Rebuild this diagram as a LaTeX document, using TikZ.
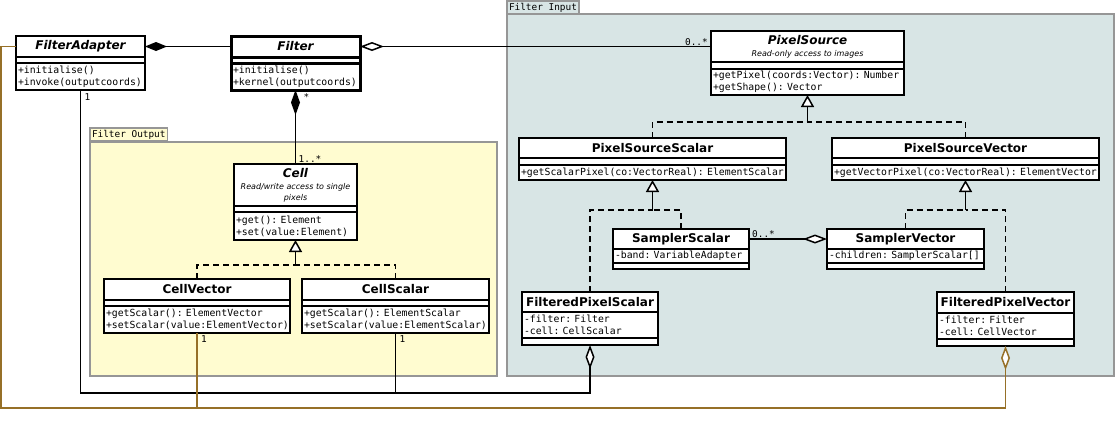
\documentclass[tikz,border=0pt]{standalone}
\usepackage{fontspec}
\setmainfont{DejaVu Sans}
\setmonofont{DejaVu Sans Mono}
\usetikzlibrary{positioning,arrows.meta}
\definecolor{inputfill}{RGB}{216,229,229}
\definecolor{outputfill}{RGB}{255,252,208}
\definecolor{pkgline}{RGB}{150,150,150}
\definecolor{linkbrown}{RGB}{150,112,40}
\newcommand{\notefont}{\fontsize{8}{9.5}\selectfont\mdseries\itshape}
\tikzset{
  pkgbody/.style={draw=pkgline, line width=1.2pt, anchor=north west, inner sep=0pt, outer sep=0pt},
  pkgtab/.style={draw=pkgline, line width=1.2pt, anchor=north west, inner xsep=2pt, inner ysep=0pt,
    minimum height=13pt, outer sep=0pt, font=\fontsize{9.4}{11}\selectfont\ttfamily},
  ctitle/.style={draw, fill=white, line width=1.7pt, outer sep=0pt, inner sep=1pt, anchor=north west,
    align=center, font=\fontsize{12}{14}\selectfont\bfseries},
  ccomp/.style={draw, fill=white, line width=1.7pt, outer sep=0pt, inner xsep=2pt, inner ysep=1pt,
    align=left, font=\fontsize{9.8}{12}\selectfont\ttfamily},
  mult/.style={inner sep=1pt, font=\fontsize{9.4}{11}\selectfont\ttfamily},
  link/.style={line width=1.5pt},
  compo/.style={link, {Diamond[length=22pt, width=9pt]}-},
  aggr/.style={link, {Diamond[length=24pt, width=9pt, fill=white]}-},
  realize/.style={link, dash pattern=on 6pt off 4pt},
  realtip/.style={link, -{Triangle[length=12pt, width=13pt, fill=white]}},
}
\begin{document}
\begin{tikzpicture}[x=1pt, y=-1pt]
\useasboundingbox (0,0) rectangle (1116,421);

\node[pkgbody, fill=inputfill, minimum width=607pt, minimum height=362pt] (inbox) at (507,14) {};
\node[pkgtab, fill=inputfill] (intab) at (507,1) {Filter Input};
\node[pkgbody, fill=outputfill, minimum width=407pt, minimum height=234pt] (outbox) at (90,142) {};
\node[pkgtab, fill=outputfill] (outtab) at (90,128) {Filter Output};

\node[ctitle, minimum width=129pt, minimum height=21pt] (fa) at (16,36) {\itshape FilterAdapter};
\node[ccomp, minimum width=129pt, minimum height=6pt, below=0pt of fa] (faa) {};
\node[ccomp, text width=125pt, minimum height=27pt, below=0pt of faa] (fam) {+initialise()\\+invoke(outputcoords)};

\node[ctitle, line width=3pt, minimum width=129pt, minimum height=21pt] (f) at (231,36) {\itshape Filter};
\node[ccomp, line width=3pt, minimum width=129pt, minimum height=6pt, below=0pt of f] (fa2) {};
\node[ccomp, line width=3pt, text width=125pt, minimum height=27pt, below=0pt of fa2] (fm) {+initialise()\\+kernel(outputcoords)};

\node[ctitle, minimum width=193pt, minimum height=31pt] (ps) at (711,31) {\itshape PixelSource\\[-2pt]\notefont Read-only access to images};
\node[ccomp, minimum width=193pt, minimum height=7pt, below=0pt of ps] (psa) {};
\node[ccomp, text width=189pt, minimum height=26pt, below=0pt of psa] (psm) {+getPixel(coords:Vector):~Number\\+getShape():~Vector};

\node[ctitle, minimum width=267pt, minimum height=20pt] (pss) at (519,138) {PixelSourceScalar};
\node[ccomp, minimum width=267pt, minimum height=7pt, below=0pt of pss] (pssa) {};
\node[ccomp, text width=263pt, minimum height=15pt, below=0pt of pssa] (pssm) {+getScalarPixel(co:VectorReal):~ElementScalar};

\node[ctitle, minimum width=267pt, minimum height=20pt] (psv) at (832,138) {PixelSourceVector};
\node[ccomp, minimum width=267pt, minimum height=7pt, below=0pt of psv] (psva) {};
\node[ccomp, text width=263pt, minimum height=15pt, below=0pt of psva] (psvm) {+getVectorPixel(co:VectorReal):~ElementVector};

\node[ctitle, minimum width=136pt, minimum height=20pt] (ss) at (613,229) {SamplerScalar};
\node[ccomp, text width=132pt, minimum height=14pt, below=0pt of ss] (ssa) {-band:~VariableAdapter};
\node[ccomp, minimum width=136pt, minimum height=6pt, below=0pt of ssa] (ssm) {};

\node[ctitle, minimum width=157pt, minimum height=20pt] (sv) at (827,229) {SamplerVector};
\node[ccomp, text width=153pt, minimum height=14pt, below=0pt of sv] (sva) {-children:~SamplerScalar[]};
\node[ccomp, minimum width=157pt, minimum height=6pt, below=0pt of sva] (svm) {};

\node[ctitle, minimum width=136pt, minimum height=20pt] (fps) at (522,292) {FilteredPixelScalar};
\node[ccomp, text width=132pt, minimum height=26pt, below=0pt of fps] (fpsa) {-filter:~Filter\\-cell:~CellScalar};
\node[ccomp, minimum width=136pt, minimum height=7pt, below=0pt of fpsa] (fpsm) {};

\node[ctitle, minimum width=137pt, minimum height=21pt] (fpv) at (937,292) {FilteredPixelVector};
\node[ccomp, text width=133pt, minimum height=26pt, below=0pt of fpv] (fpva) {-filter:~Filter\\-cell:~CellVector};
\node[ccomp, minimum width=137pt, minimum height=7pt, below=0pt of fpva] (fpvm) {};

\node[ctitle, minimum width=123pt, minimum height=42pt] (cell) at (234,164) {\itshape Cell\\[-2pt]\notefont Read/write access to single\\[-3pt]\notefont pixels};
\node[ccomp, minimum width=123pt, minimum height=6pt, below=0pt of cell] (cella) {};
\node[ccomp, text width=119pt, minimum height=28pt, below=0pt of cella] (cellm) {+get():~Element\\+set(value:Element)};

\node[ctitle, minimum width=186pt, minimum height=21pt] (cv) at (104,279) {CellVector};
\node[ccomp, minimum width=186pt, minimum height=6pt, below=0pt of cv] (cva) {};
\node[ccomp, text width=182pt, minimum height=27pt, below=0pt of cva] (cvm) {+getScalar():~ElementVector\\+setScalar(value:ElementVector)};

\node[ctitle, minimum width=187pt, minimum height=21pt] (cs) at (302,279) {CellScalar};
\node[ccomp, minimum width=187pt, minimum height=6pt, below=0pt of cs] (csa) {};
\node[ccomp, text width=183pt, minimum height=27pt, below=0pt of csa] (csm) {+getScalar():~ElementScalar\\+setScalar(value:ElementScalar)};

\coordinate (psj) at (807.5,122);
\coordinate (pssj) at (652.5,210);
\coordinate (psvj) at (965.5,210);
\coordinate (cellj) at (295.5,265);
\coordinate (blackbus) at (80.5,393);
\coordinate (brownbus) at (1,408);

\draw[compo] (fa.east) -- (f.west);
\draw[aggr] (f.east) -- (ps.west);
\draw[compo, {Diamond[length=25pt, width=9pt]}-] (fm.south) -- (cell.north);
\draw[aggr] (sv.west) -- (ss.east);

\draw[realize] (pss.north) |- (psj);
\draw[realize] (psv.north) |- (psj);
\draw[realtip] (psj) -- (psm.south);
\draw[realize] (ss.north) |- (pssj);
\draw[realize] (fps.north) |- (pssj);
\draw[realtip] (pssj) -- (pssm.south);
\draw[realize] (sv.north) |- (psvj);
\draw[realize] (fpv.north) |- (psvj);
\draw[realtip] (psvj) -- (psvm.south);
\draw[realize] (cv.north) |- (cellj);
\draw[realize] (cs.north) |- (cellj);
\draw[realtip] (cellj) -- (cellm.south);

\draw[aggr] (fpsm.south) |- (blackbus) -- (fam.south);
\draw[link] (csm.south) -- (csm.south |- blackbus);
\draw[aggr, draw=linkbrown] (fpvm.south) |- (brownbus) |- (fa.west);
\draw[link, draw=linkbrown] (cvm.south) -- (cvm.south |- brownbus);

\node[mult, anchor=south east, xshift=-2pt] (psmult) at (ps.west) {0..*};
\node[mult, anchor=north west, xshift=7pt, yshift=-2pt] (fmult) at (fm.south) {*};
\node[mult, anchor=south west, xshift=2pt] (cellmult) at (cell.north) {1..*};
\node[mult, anchor=south west, xshift=2pt] (ssmult) at (ss.east) {0..*};
\node[mult, anchor=north west, xshift=3pt, yshift=-2pt] (famult) at (fam.south) {1};
\node[mult, anchor=north west, xshift=3pt, yshift=-1pt] (cvmult) at (cvm.south) {1};
\node[mult, anchor=north west, xshift=3pt, yshift=-1pt] (csmult) at (csm.south) {1};
\end{tikzpicture}
\end{document}
